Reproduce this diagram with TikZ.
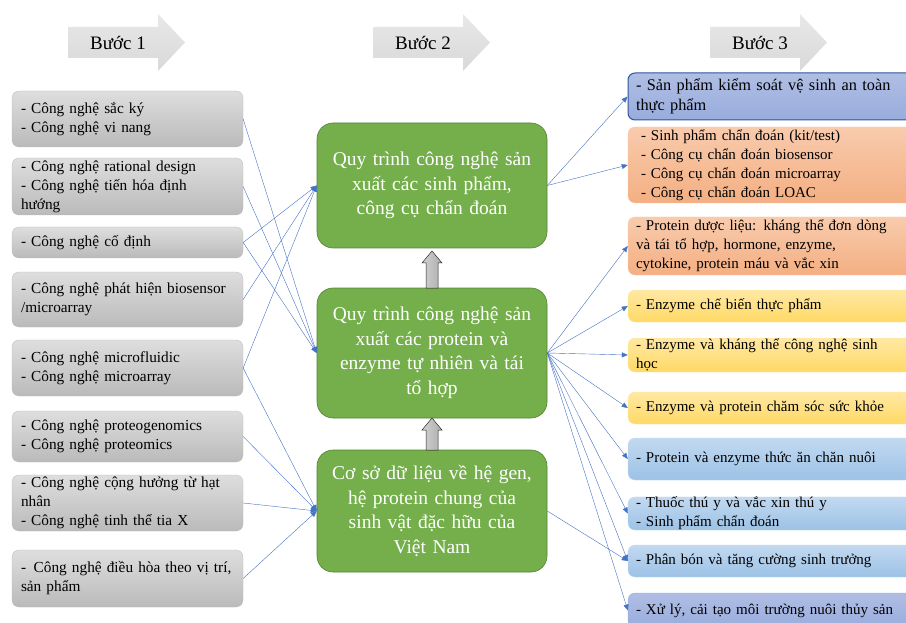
\documentclass[tikz,border=0pt]{standalone}
\usepackage{fontspec}
\setmainfont{Liberation Serif}
\usetikzlibrary{arrows.meta, positioning, calc}

\definecolor{grayTop}{HTML}{DEDEDE}
\definecolor{grayBot}{HTML}{BABABA}
\definecolor{procGreen}{HTML}{74AF4B}
\definecolor{procEdge}{HTML}{548235}
\definecolor{linkBlue}{HTML}{4472C4}
\definecolor{lavTop}{HTML}{B0BEE4}
\definecolor{lavBot}{HTML}{98ACDC}
\definecolor{lavEdge}{HTML}{2F5597}
\definecolor{pinkTop}{HTML}{F8CBAD}
\definecolor{pinkBot}{HTML}{F4AF82}
\definecolor{yelTop}{HTML}{FFE8A3}
\definecolor{yelBot}{HTML}{FFD966}
\definecolor{bluTop}{HTML}{C2D9F0}
\definecolor{bluBot}{HTML}{9CC2E6}

\tikzset{
  techbox/.style={rounded corners=7pt, top color=grayTop, bottom color=grayBot,
    draw=grayBot, line width=0.3pt, text width=213pt, inner xsep=9pt,
    inner ysep=0pt, minimum width=231pt, align=left,
    font=\fontsize{15.3}{19}\selectfont},
  procbox/.style={rounded corners=16pt, fill=procGreen, draw=procEdge,
    line width=0.6pt, text=white, text width=212pt, minimum width=230pt,
    align=center, font=\fontsize{19.5}{24.5}\selectfont},
  prodbox/.style={rounded corners=7pt, text width=271pt, inner xsep=8pt,
    inner ysep=0pt, minimum width=287pt, align=left,
    font=\fontsize{15}{19}\selectfont},
  lavbox/.style={prodbox, top color=lavTop, bottom color=lavBot, draw=lavEdge, line width=1pt},
  pinkbox/.style={prodbox, top color=pinkTop, bottom color=pinkBot, draw=pinkTop},
  yelbox/.style={prodbox, top color=yelTop, bottom color=yelBot, draw=yelTop},
  blubox/.style={prodbox, top color=bluTop, bottom color=bluBot, draw=bluTop},
  link/.style={draw=linkBlue, line width=0.4pt, -{Triangle[length=6pt,width=5pt]}},
  steparrow/.style={top color=gray!18, bottom color=gray!30, draw=none},
  uparrow/.style={left color=gray!35, right color=gray!65, draw=gray!30!black, line width=0.5pt},
  steplabel/.style={font=\fontsize{19}{22}\selectfont}
}

\begin{document}
\begin{tikzpicture}[x=1pt, y=-1pt]
  \useasboundingbox (0,0) rectangle (906,623);

  % step headers
  \foreach \x/\n in {68/1, 373/2, 710/3} {
    \shade[steparrow] (\x,27) -- (\x+90,27) -- (\x+90,14) -- (\x+117,42.5)
      -- (\x+90,71) -- (\x+90,58) -- (\x,58) -- cycle;
    \node[steplabel] (step\n) at (\x+50,42.5) {Bước \n};
  }

  % step 1
  \node[techbox, minimum height=56] (l1) at (127.5,119) {- Công nghệ sắc ký\\- Công nghệ vi nang};
  \node[techbox, minimum height=57] (l2) at (127.5,186.5) {- Công nghệ rational design\\- Công nghệ tiến hóa định\\hướng};
  \node[techbox, minimum height=31] (l3) at (127.5,242.5) {- Công nghệ cố định};
  \node[techbox, minimum height=55] (l4) at (127.5,299.5) {- Công nghệ phát hiện biosensor\\/microarray};
  \node[techbox, minimum height=56] (l5) at (127.5,368) {- Công nghệ microfluidic\\- Công nghệ microarray};
  \node[techbox, minimum height=51] (l6) at (127.5,436.5) {- Công nghệ proteogenomics\\- Công nghệ proteomics};
  \node[techbox, minimum height=56] (l7) at (127.5,503) {\makebox[213pt][s]{- Công nghệ cộng hưởng từ hạt}\\nhân\\- Công nghệ tinh thể tia X};
  \node[techbox, minimum height=57] (l8) at (127.5,578.5) {- \,Công nghệ điều hòa theo vị trí,\\sản phẩm};

  % step 2
  \node[procbox, minimum height=125] (c1) at (432,185.5) {Quy trình công nghệ sản\\xuất các sinh phẩm,\\công cụ chẩn đoán};
  \node[procbox, minimum height=130] (c2) at (432,353) {Quy trình công nghệ sản\\xuất các protein và\\enzyme tự nhiên và tái\\tổ hợp};
  \node[procbox, minimum height=122] (c3) at (432,511) {Cơ sở dữ liệu về hệ gen,\\hệ protein chung của\\sinh vật đặc hữu của\\Việt Nam};

  \shadedraw[uparrow] (426,288) -- (426,263) -- (422,263) -- (432,251) -- (442,263)
    -- (438,263) -- (438,288) -- cycle;
  \shadedraw[uparrow] (426,450) -- (426,430) -- (422,430) -- (432,418) -- (442,430)
    -- (438,430) -- (438,450) -- cycle;

  % step 3
  \node[lavbox, minimum height=47, font=\fontsize{16.3}{20}\selectfont] (r1) at (771.5,96.5) {- Sản phẩm kiểm soát vệ sinh an toàn\\thực phẩm};
  \node[pinkbox, minimum height=76] (r2) at (771.5,165) {\ - Sinh phẩm chẩn đoán (kit/test)\\\ - Công cụ chẩn đoán biosensor\\\ - Công cụ chẩn đoán microarray\\\ - Công cụ chẩn đoán LOAC};
  \node[pinkbox, minimum height=58] (r3) at (771.5,246) {\makebox[263pt][s]{- Protein dược liệu: kháng thể đơn dòng}\\\makebox[263pt][s]{và tái tổ hợp, hormone, enzyme,}\\cytokine, protein máu và vắc xin};
  \node[yelbox, minimum height=32] (r4) at (771.5,306) {- Enzyme chế biến thực phẩm};
  \node[yelbox, minimum height=34] (r5) at (771.5,355) {\makebox[263pt][s]{- Enzyme và kháng thể công nghệ sinh}\\học};
  \node[yelbox, minimum height=32] (r6) at (771.5,408) {- Enzyme và protein chăm sóc sức khỏe};
  \node[blubox, minimum height=42] (r7) at (771.5,459) {- Protein và enzyme thức ăn chăn nuôi};
  \node[blubox, minimum height=33] (r8) at (771.5,513.5) {- Thuốc thú y và vắc xin thú y\\- Sinh phẩm chẩn đoán};
  \node[blubox, minimum height=32] (r9) at (771.5,561) {- Phân bón và tăng cường sinh trưởng};
  \node[lavbox, draw=lavBot, line width=0.3pt, minimum height=35] (r10) at (771.5,610.5) {- Xử lý, cải tạo môi trường nuôi thủy sản};

  % links
  \foreach \a/\b in {l1/c2, l2/c2, l3/c1, l3/c2, l4/c1, l5/c1, l5/c3, l6/c3, l7/c3, l8/c3}
    \draw[link] (\a.east) -- (\b.west);
  \foreach \a/\b in {c1/r1, c1/r2, c2/r3, c2/r4, c2/r5, c2/r6, c2/r7, c2/r8, c2/r9, c2/r10, c3/r9}
    \draw[link] (\a.east) -- (\b.west);
\end{tikzpicture}
\end{document}
